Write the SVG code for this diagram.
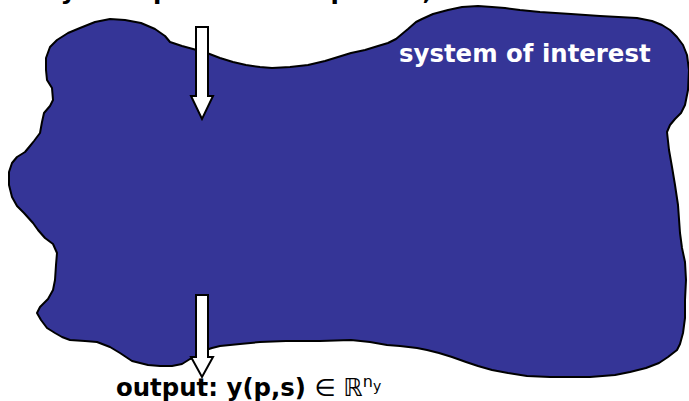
<svg xmlns="http://www.w3.org/2000/svg" width="689" height="401" viewBox="0 0 689 401">
  <style>
    .blob { fill: #353597; stroke: #000; stroke-width: 2; stroke-linejoin: round; }
    .arrow { fill: #fff; stroke: #000; stroke-width: 2; stroke-linejoin: miter; }
    .lbl { font-family: "DejaVu Sans", Verdana, sans-serif; font-weight: bold; font-size: 24.4px; fill: #000; }
    .math { font-weight: normal; }
    .inner { fill: #fff; }
  </style>
  <rect width="689" height="401" fill="#fff"/>

  <!-- irregular region representing the system -->
  <g id="system">
    <path class="blob" d="M46,70 L46,58 L50,47 L57,40 L68,33 L80,28 L95,22 L110,19 L125,20 L141,23 L155,29 L165,36 L170,42 L182,46 L193,49 L207,53 L220,58 L233,62 L246,65 L260,67 L272,68 L290,67 L308,65 L325,61 L338,57 L351,53 L365,50 L378,46 L388,43 L396,39 L408,29 L416,22 L422,19 L433,14 L448,10 L462,7 L478,6 L492,7 L505,8 L520,10 L540,12 L571,14 L600,16 L637,18 L652,21 L662,25 L670,30 L677,37 L683,45 L687,55 L689,70 L688,90 L685,105 L681,113 L675,119 L670,125 L667,132 L669,150 L672,167 L675,185 L678,205 L680,233 L682,248 L685,262 L686,280 L685,300 L685,318 L683,333 L680,344 L677,350 L668,357 L659,363 L646,368 L630,372 L615,375 L590,377 L571,377 L550,377 L527,376 L508,373 L492,370 L478,366 L466,362 L452,357 L439,353 L427,350 L417,348 L400,346 L387,345 L370,342 L351,340 L320,341 L286,341 L260,342 L240,344 L220,346 L212,348 L206,350 L198,356 L190,359 L182,364 L172,366 L160,366 L148,365 L132,361 L120,353 L110,347 L97,342 L85,341 L70,340 L62,337 L55,333 L47,328 L41,320 L37,313 L40,307 L48,299 L53,290 L55,280 L56,265 L57,253 L53,244 L45,238 L38,230 L33,223 L24,213 L17,206 L12,197 L9,185 L9,172 L12,163 L17,157 L25,152 L30,146 L34,141 L40,133 L42,122 L44,113 L50,106 L53,100 L52,88 L47,80 Z"/>
    <text class="lbl inner" x="399" y="62" font-size="24.8">system of interest</text>
  </g>

  <!-- input and output arrows -->
  <g id="connectors">
    <path id="arrow-in" class="arrow" d="M196,27 L208,27 L208,96 L213,96 L202,119 L191,96 L196,96 Z"/>
    <path id="arrow-out" class="arrow" d="M196,295 L208,295 L208,357 L213,357 L202,377 L191,357 L196,357 Z"/>
  </g>

  <!-- parameter label, running off the top edge -->
  <g id="input-label">
    <text class="lbl" x="46" y="-1">system parameters: p <tspan class="math">∈ ℝ</tspan><tspan class="math" font-size="15" dy="-9">n</tspan><tspan class="math" font-size="13" dy="4">p</tspan><tspan dy="5">,</tspan></text>
  </g>

  <!-- output label -->
  <g id="output-label">
    <text class="lbl" x="116" y="396">output: y(p,s) <tspan class="math">∈ ℝ</tspan><tspan class="math" font-size="16" dy="-9">n</tspan><tspan class="math" font-size="14" dy="4">y</tspan></text>
  </g>
</svg>
